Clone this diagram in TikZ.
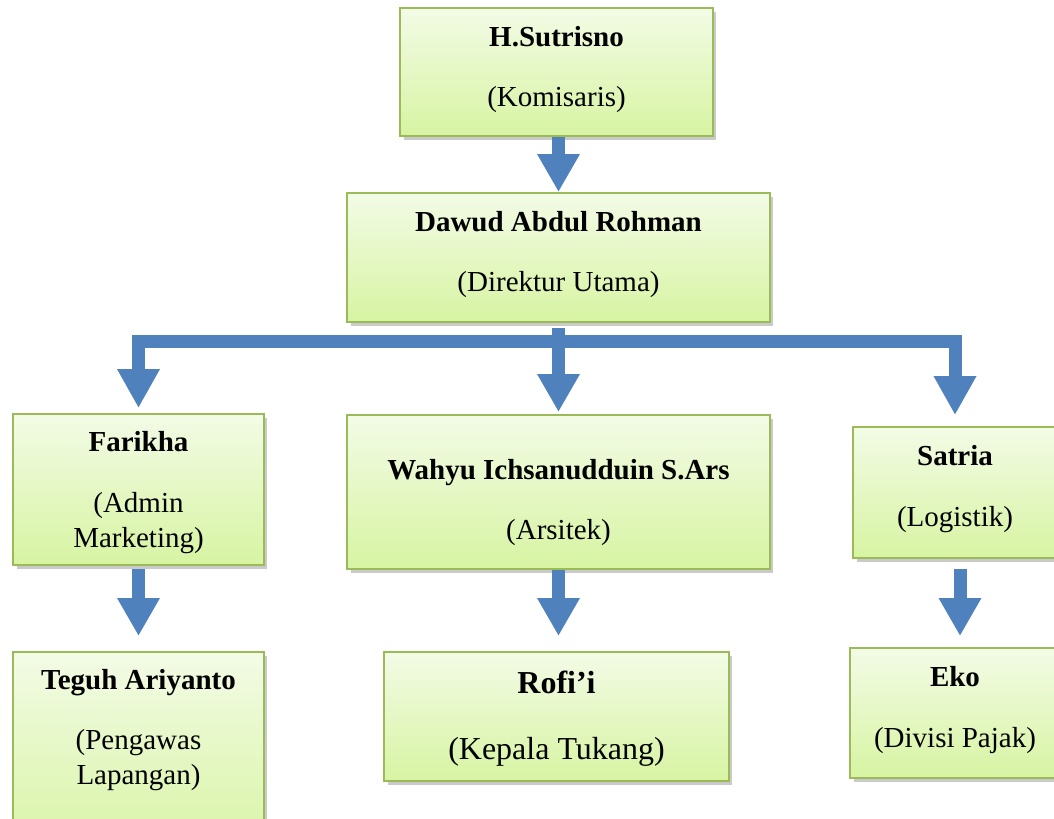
\documentclass[tikz,border=0pt]{standalone}
\usepackage{fontspec}
\setmainfont{Liberation Serif}
\usetikzlibrary{arrows.meta,shadows}
\definecolor{boxtop}{HTML}{F3FBE6}
\definecolor{boxbot}{HTML}{D7F4A2}
\definecolor{boxline}{HTML}{9BBB59}
\definecolor{arrowblue}{HTML}{4F81BD}
\tikzset{
  jabatan/.style={draw=boxline, line width=0.04cm, top color=boxtop, bottom color=boxbot, inner sep=0pt,
    drop shadow={shadow xshift=0.07cm, shadow yshift=-0.08cm, opacity=0.35, fill=black!60}},
  nama/.style={align=center, font=\fontsize{16.5}{20}\selectfont},
  panah/.style={draw=arrowblue, line width=0.26cm, line join=miter, -{Triangle[width=0.8cm,length=0.76cm]}},
}

\begin{document}
\begin{tikzpicture}[x=0.02cm,y=-0.02cm]
		\useasboundingbox (0,0) rectangle (1054,818);
		\clip (0,0) rectangle (1054,818);

		\node [jabatan, minimum width=6.26cm, minimum height=2.56cm](Komisaris) at (556.5,72) {};
		\node [jabatan, minimum width=8.46cm, minimum height=2.58cm](Direktur) at (558.5,257.5) {};
		\node [jabatan, minimum width=5.02cm, minimum height=3.02cm](Marketing) at (138.5,489.5) {};
		\node [jabatan, minimum width=8.46cm, minimum height=3.08cm](Arsitek) at (558.5,492) {};
		\node [jabatan, minimum width=4.08cm, minimum height=2.62cm](Logistik) at (955,492.5) {};
		\node [jabatan, minimum width=5.02cm, minimum height=4.16cm](Pengawas) at (138.5,756) {};
		\node [jabatan, minimum width=6.9cm, minimum height=2.58cm](Tukang) at (556.5,716.5) {};
		\node [jabatan, minimum width=4.2cm, minimum height=2.6cm](Pajak) at (955,713) {};

		\node [nama](tKomisaris) at (556.5,69.5) {\textbf{H.Sutrisno}\\[14.5pt](Komisaris)};
		\node [nama](tDirektur) at (558.5,254.5) {\textbf{Dawud Abdul Rohman}\\[14.5pt](Direktur Utama)};
		\node [nama](tMarketing) at (138.5,492.5) {\textbf{Farikha}\\[14.5pt](Admin\\Marketing)};
		\node [nama](tArsitek) at (558.5,502.5) {\textbf{Wahyu Ichsanudduin S.Ars}\\[14.5pt](Arsitek)};
		\node [nama](tLogistik) at (955,489) {\textbf{Satria}\\[14.5pt](Logistik)};
		\node [nama](tPengawas) at (138.5,730) {\textbf{Teguh Ariyanto}\\[14.5pt](Pengawas\\Lapangan)};
		\node [nama, font=\fontsize{18.2}{20.5}\selectfont](tTukang) at (556.5,719) {\textbf{Rofi’i}\\[17pt](Kepala Tukang)};
		\node [nama](tPajak) at (955,710) {\textbf{Eko}\\[14.5pt](Divisi Pajak)};

		\coordinate (cabang) at (558.5,341.5);
		\draw [panah](Direktur.north |- Komisaris.south) -- (Direktur.north);
		\draw [panah, {Triangle[width=0.8cm,length=0.78cm]}-{Triangle[width=0.8cm,length=0.78cm]}, shorten <=0.1cm, shorten >=0.22cm]
			(Marketing.north) -- (Marketing.north |- cabang) -- (Logistik.north |- cabang) -- (Logistik.north);
		\draw [panah, shorten <=0.1cm, shorten >=0.04cm](Direktur.south) -- (Arsitek.north);

		\draw [panah, shorten <=0.06cm, shorten >=0.3cm](Marketing.south) -- (Pengawas.north);
		\draw [panah, shorten >=0.3cm](Arsitek.south) -- (Arsitek.south |- Tukang.north);
		\draw [panah, shorten <=0.2cm, shorten >=0.22cm]([xshift=0.1cm]Logistik.south) -- ([xshift=0.1cm]Pajak.north);
	\end{tikzpicture}
\end{document}
